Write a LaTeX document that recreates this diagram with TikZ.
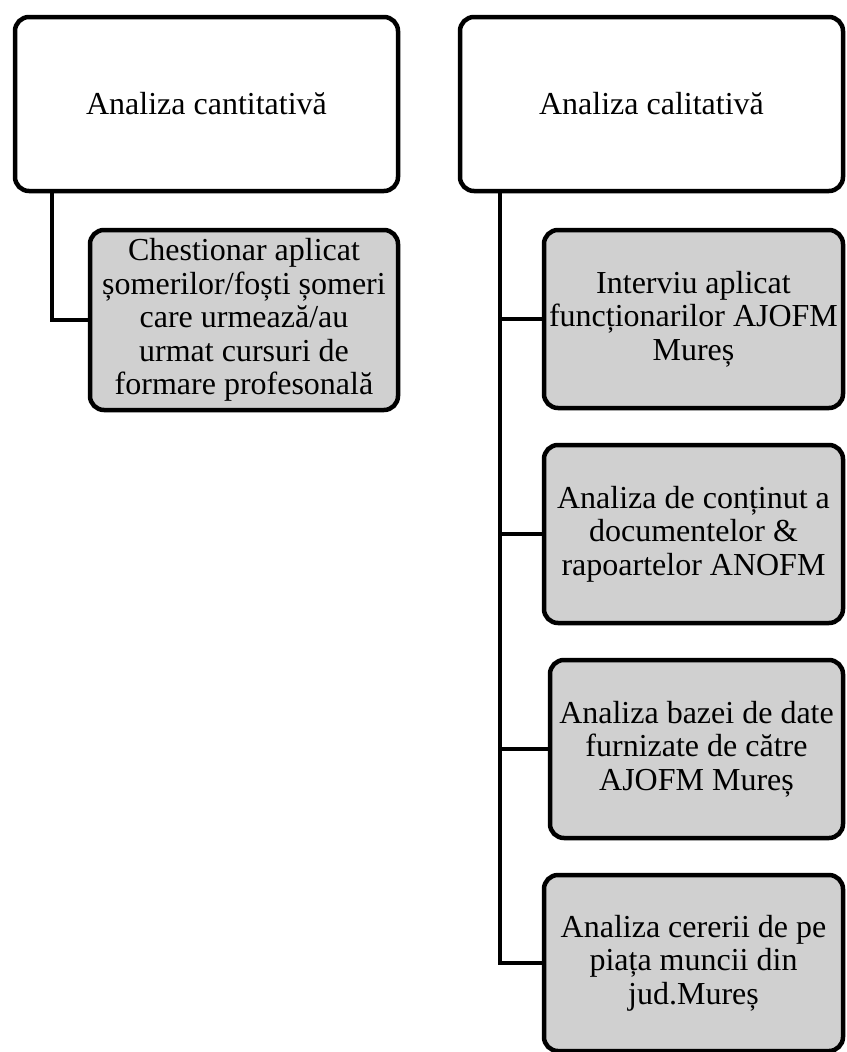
\documentclass[tikz,border=0pt]{standalone}
\usepackage{fontspec}
\setmainfont{Liberation Serif}
\definecolor{boxgray}{RGB}{208,208,208}
\begin{document}
\begin{tikzpicture}[x=1pt,y=-1pt,
  box/.style={draw=black, line width=4.5pt, rounded corners=14pt, align=center,
    inner sep=0pt, outer sep=0pt, font=\fontsize{32}{33.5}\selectfont},
  topbox/.style={box, fill=white, minimum width=383pt, minimum height=174pt},
  subbox/.style={box, fill=boxgray, minimum height=178pt},
  link/.style={draw=black, line width=4.5pt}]
\useasboundingbox (0,0) rectangle (846,1052);
\node[topbox] (tl) at (206.5,104) {Analiza cantitativă};
\node[topbox] (tr) at (651.5,104) {Analiza calitativă};
\node[subbox, minimum width=308pt, minimum height=180pt] (lc) at (244,320)
  {Chestionar aplicat\\șomerilor/foști șomeri\\care urmează/au\\urmat cursuri de\\formare profesonală};
\node[subbox, minimum width=299pt] (r1) at (693.5,319)
  {Interviu aplicat\\funcționarilor AJOFM\\Mureș};
\node[subbox, minimum width=299pt] (r2) at (693.5,534)
  {Analiza de conținut a\\documentelor \&\\rapoartelor ANOFM};
\node[subbox, minimum width=293pt] (r3) at (696.5,749)
  {Analiza bazei de date\\furnizate de către\\AJOFM Mureș};
\node[subbox, minimum width=299pt, minimum height=176pt] (r4) at (693.5,963)
  {Analiza cererii de pe\\piața muncii din\\jud.Mureș};
\draw[link] ([xshift=37pt]tl.south west) |- (lc.west);
\draw[link] ([xshift=40pt]tr.south west) |- (r1.west);
\draw[link] ([xshift=40pt]tr.south west) |- (r2.west);
\draw[link] ([xshift=40pt]tr.south west) |- (r3.west);
\draw[link] ([xshift=40pt]tr.south west) |- (r4.west);
\end{tikzpicture}
\end{document}
